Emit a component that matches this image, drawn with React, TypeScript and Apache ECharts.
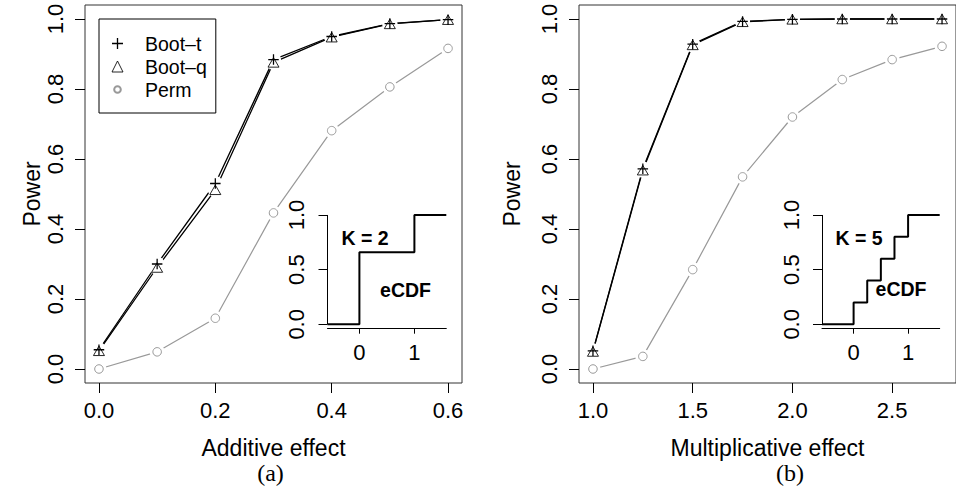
import React, { useEffect, useRef } from "react";
import * as echarts from "echarts";

// ---- data ----
const additiveEffect = [0, 0.1, 0.2, 0.3, 0.4, 0.5, 0.6];
const addBootT = [0.055, 0.3, 0.53, 0.884, 0.95, 0.987, 0.998];
const addBootQ = [0.052, 0.29, 0.512, 0.876, 0.948, 0.986, 0.998];
const addPerm = [0.0, 0.049, 0.145, 0.446, 0.681, 0.806, 0.916];

const multEffect = [1.0, 1.25, 1.5, 1.75, 2.0, 2.25, 2.5, 2.75];
const multBootT = [0.052, 0.572, 0.928, 0.993, 0.999, 1.0, 1.0, 1.0];
const multBootQ = [0.05, 0.568, 0.926, 0.992, 0.999, 1.0, 1.0, 1.0];
const multPerm = [0.0, 0.036, 0.284, 0.549, 0.72, 0.827, 0.884, 0.922];

const ecdfK2Jumps = [0, 1];
const ecdfK2Levels = [0.66, 1];
const ecdfK5Jumps = [0, 0.25, 0.5, 0.75, 1];
const ecdfK5Levels = [0.2, 0.4, 0.6, 0.8, 1];

const powerTicks = [0, 0.2, 0.4, 0.6, 0.8, 1.0];
const addTicks = [0, 0.2, 0.4, 0.6];
const multTicks = [1.0, 1.5, 2.0, 2.5];
const insetYTicks = [0, 0.5, 1];
const insetXTicks = [0, 1];

const seriesNames = ["Boot–t", "Boot–q", "Perm"];

// ---- styling constants ----
const SANS = "'Liberation Sans', Arial, Helvetica, sans-serif";
const SERIF = "'Liberation Serif', 'Times New Roman', serif";
const GRAY = "#999999";
const PLUS = "path://M-0.12,-1H0.12V-0.12H1V0.12H0.12V1H-0.12V0.12H-1V-0.12H-0.12Z";
const SMALL_CIRCLE = "path://M-1,-1M1,1M0.6,0A0.6,0.6,0,1,1,-0.6,0A0.6,0.6,0,1,1,0.6,0Z";
const INSET_MIN = -0.58;
const INSET_MAX = 1.58;

const zip = (xs: number[], ys: number[]) => xs.map((x, i) => [x, ys[i]]);
const stepData = (jumps: number[], levels: number[]) => [
  [INSET_MIN, 0],
  ...zip(jumps, levels),
  [INSET_MAX, levels[levels.length - 1]],
];

function panelSeries(idx: number, xs: number[], bt: number[], bq: number[], pm: number[]) {
  const base = { xAxisIndex: idx, yAxisIndex: idx, silent: true };
  return [
    { ...base, type: "line", name: "bt-line" + idx, data: zip(xs, bt), showSymbol: false, z: 2,
      lineStyle: { color: "#000", width: 1.3 } },
    { ...base, type: "line", name: "bq-line" + idx, data: zip(xs, bq), showSymbol: false, z: 2,
      lineStyle: { color: "#000", width: 1.3 } },
    { ...base, type: "line", name: "pm-line" + idx, data: zip(xs, pm), showSymbol: false, z: 2,
      lineStyle: { color: GRAY, width: 1.2 } },
    { ...base, type: "scatter", name: "gap" + idx, z: 3, symbol: "circle", symbolSize: 15,
      itemStyle: { color: "#fff", opacity: 1 },
      data: [...zip(xs, bt), ...zip(xs, bq), ...zip(xs, pm)] },
    { ...base, type: "scatter", name: seriesNames[0], z: 4, symbol: PLUS, symbolSize: 10.5,
      itemStyle: { color: "#000", opacity: 1 }, data: zip(xs, bt) },
    { ...base, type: "scatter", name: seriesNames[1], z: 4, symbol: "triangle", symbolSize: [11, 9.5],
      itemStyle: { color: "rgba(0,0,0,0)", borderColor: "#000", borderWidth: 0.85, opacity: 1 }, data: zip(xs, bq) },
    { ...base, type: "scatter", name: seriesNames[2], z: 4, symbol: "circle", symbolSize: 8.5,
      itemStyle: { color: "rgba(0,0,0,0)", borderColor: GRAY, borderWidth: 1, opacity: 1 }, data: zip(xs, pm) },
  ];
}

function ecdfSeries(idx: number, jumps: number[], levels: number[]) {
  return {
    type: "line", name: "ecdf" + idx, xAxisIndex: idx, yAxisIndex: idx, silent: true, clip: false,
    step: "end", showSymbol: false, z: 5,
    lineStyle: { color: "#000", width: 2 },
    data: stepData(jumps, levels),
    markLine: {
      silent: true, symbol: "none", label: { show: false }, animation: false,
      lineStyle: { color: "#000", width: 1, type: "solid" },
      data: [[{ coord: [INSET_MIN, 0] }, { coord: [INSET_MIN, 1] }]],
    },
  };
}

const tickLabel = (digits: number) => (v: number) => v.toFixed(digits);

function mainX(grid: number, min: number, max: number, ticks: number[], name: string) {
  return {
    type: "value", gridIndex: grid, min, max,
    axisLine: { show: false, onZero: false }, splitLine: { show: false },
    axisTick: { show: true, length: 10, customValues: ticks, lineStyle: { color: "#000", width: 1 } },
    axisLabel: { customValues: ticks, formatter: tickLabel(1), margin: 16, fontSize: 22, color: "#000", fontFamily: SANS },
    name, nameLocation: "middle", nameGap: 53,
    nameTextStyle: { fontSize: 23, color: "#000", fontFamily: SANS },
  };
}

function mainY(grid: number, nameGap: number) {
  return {
    type: "value", gridIndex: grid, min: -0.04, max: 1.04,
    axisLine: { show: false, onZero: false }, splitLine: { show: false },
    axisTick: { show: true, length: 10, customValues: powerTicks, lineStyle: { color: "#000", width: 1 } },
    axisLabel: { customValues: powerTicks, formatter: tickLabel(1), rotate: 90, margin: 19, fontSize: 22, color: "#000", fontFamily: SANS },
    name: "Power", nameLocation: "middle", nameGap, nameRotate: 90,
    nameTextStyle: { fontSize: 23, color: "#000", fontFamily: SANS },
  };
}

function insetX(grid: number) {
  return {
    type: "value", gridIndex: grid, min: INSET_MIN, max: INSET_MAX,
    axisLine: { show: true, onZero: false, lineStyle: { color: "#000", width: 1 } }, splitLine: { show: false },
    axisTick: { show: true, length: 5, customValues: insetXTicks, lineStyle: { color: "#000", width: 1 } },
    axisLabel: { customValues: insetXTicks, formatter: tickLabel(0), margin: 13, fontSize: 22, color: "#000", fontFamily: SANS },
  };
}

function insetY(grid: number) {
  return {
    type: "value", gridIndex: grid, min: -0.04, max: 1.04,
    axisLine: { show: false, onZero: false }, splitLine: { show: false },
    axisTick: { show: true, length: 9, customValues: insetYTicks, lineStyle: { color: "#000", width: 1 } },
    axisLabel: { customValues: insetYTicks, formatter: tickLabel(1), rotate: 90, margin: 20, fontSize: 22, color: "#000", fontFamily: SANS },
  };
}

const boldText = (text: string, x: number, y: number) => ({
  type: "text", x, y, silent: true, z: 10,
  style: { text, fill: "#000", font: `bold 19.5px ${SANS}`, textAlign: "center", textVerticalAlign: "middle" },
});
const captionText = (text: string, x: number, y: number) => ({
  type: "text", x, y, silent: true, z: 10,
  style: { text, fill: "#000", font: `24px ${SERIF}`, textAlign: "center", textVerticalAlign: "middle" },
});

export default function App() {
  const ref = useRef<HTMLDivElement>(null);
  useEffect(() => {
    if (!ref.current) return;
    const chart = echarts.init(ref.current, undefined, { renderer: "svg" });
    const option: any = {
      animation: false,
      backgroundColor: "#fff",
      textStyle: { fontFamily: SANS },
      grid: [
        { left: 85, top: 5, width: 377, height: 378, show: true, borderColor: "#333", borderWidth: 1, backgroundColor: "transparent" },
        { left: 579, top: 5, width: 378, height: 378, show: true, borderColor: "#333", borderWidth: 1, backgroundColor: "transparent" },
        { left: 327.5, top: 210.6, width: 118.8, height: 118.1 },
        { left: 822, top: 210.6, width: 117.7, height: 118.1 },
      ],
      xAxis: [
        mainX(0, -0.024, 0.624, addTicks, "Additive effect"),
        mainX(1, 0.93, 2.82, multTicks, "Multiplicative effect"),
        insetX(2),
        insetX(3),
      ],
      yAxis: [mainY(0, 40), mainY(1, 56), insetY(2), insetY(3)],
      legend: {
        show: true, orient: "vertical", left: 99, top: 19,
        padding: [13, 9, 12, 12], itemWidth: 11, itemHeight: 11, itemGap: 0,
        borderColor: "#000", borderWidth: 1, borderRadius: 0, selectedMode: false,
        textStyle: { fontSize: 19.5, lineHeight: 23, color: "#000", fontFamily: SANS, padding: [0, 0, 0, 17] },
        data: [
          { name: seriesNames[0], icon: PLUS },
          { name: seriesNames[1], icon: "triangle", itemStyle: { borderWidth: 0.85 } },
          { name: seriesNames[2], icon: SMALL_CIRCLE },
        ],
      },
      series: [
        ...panelSeries(0, additiveEffect, addBootT, addBootQ, addPerm),
        ...panelSeries(1, multEffect, multBootT, multBootQ, multPerm),
        ecdfSeries(2, ecdfK2Jumps, ecdfK2Levels),
        ecdfSeries(3, ecdfK5Jumps, ecdfK5Levels),
      ],
      graphic: [
        boldText("K = 2", 365, 238),
        boldText("eCDF", 405.5, 290),
        boldText("K = 5", 859, 238),
        boldText("eCDF", 901, 289),
        captionText("(a)", 270.5, 473),
        captionText("(b)", 790, 473),
      ],
    };
    chart.setOption(option);
    return () => chart.dispose();
  }, []);
  return (
    <div
      ref={ref}
      style={{ position: "absolute", left: 0, top: 0, width: 956, height: 490, background: "#fff" }}
    />
  );
}
